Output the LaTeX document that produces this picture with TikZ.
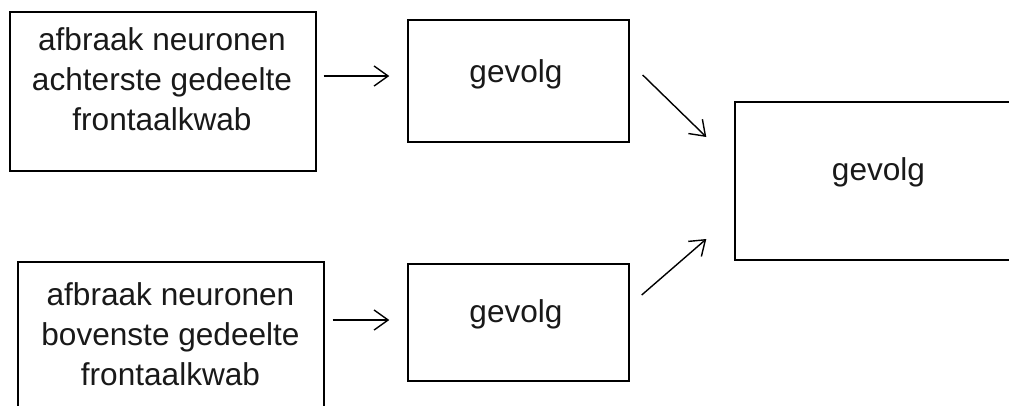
\documentclass[tikz,border=0pt]{standalone}
\usepackage{fontspec}
\setmainfont{Liberation Sans}
\usetikzlibrary{arrows.meta}
\begin{document}
\begin{tikzpicture}[x=1pt,y=-1pt,
  box/.style={draw=black, line width=1.4pt, inner sep=0pt, minimum width=#1},
  lbl/.style={inner sep=0pt, align=center, text=black!90,
    font=\fontsize{31.6}{40}\selectfont},
  arr/.style={line width=1.4pt, -{Straight Barb[length=14pt,width=20pt,line width=1.4pt]}}]
\useasboundingbox (0,0) rectangle (1009,405);
\clip (0,0) rectangle (1009,405);
% boxes
\node[box=306pt, minimum height=159pt] (A) at (163,91.5) {};
\node[box=306pt, minimum height=159pt] (B) at (171,341.5) {};
\node[box=221pt, minimum height=122pt] (C) at (518.5,81) {};
\node[box=221pt, minimum height=117pt] (D) at (518.5,322.5) {};
\node[box=287pt, minimum height=158pt] (E) at (878.5,181) {};
% texts
\node[lbl, anchor=north] (tA) at (162,27) {afbraak neuronen\\achterste gedeelte\\frontaalkwab};
\node[lbl, anchor=north] (tB) at (170.5,282) {afbraak neuronen\\bovenste gedeelte\\frontaalkwab};
\node[lbl, anchor=base] (tC) at (516,82) {gevolg};
\node[lbl, anchor=base] (tD) at (516,322) {gevolg};
\node[lbl, anchor=base] (tE) at (878.5,180) {gevolg};
% connectors
\draw[arr, shorten <=7pt, shorten >=18pt] (A.east |- 0,76) -- (C.west |- 0,76);
\draw[arr, shorten <=8pt, shorten >=18pt] (B.east |- 0,320) -- (D.west |- 0,320);
\draw[arr] ([xshift=13pt]C.east |- 0,75) -- ([xshift=-28pt]E.west |- 0,137);
\draw[arr] ([xshift=12pt]D.east |- 0,295) -- ([xshift=-28pt]E.west |- 0,239);
\end{tikzpicture}
\end{document}
